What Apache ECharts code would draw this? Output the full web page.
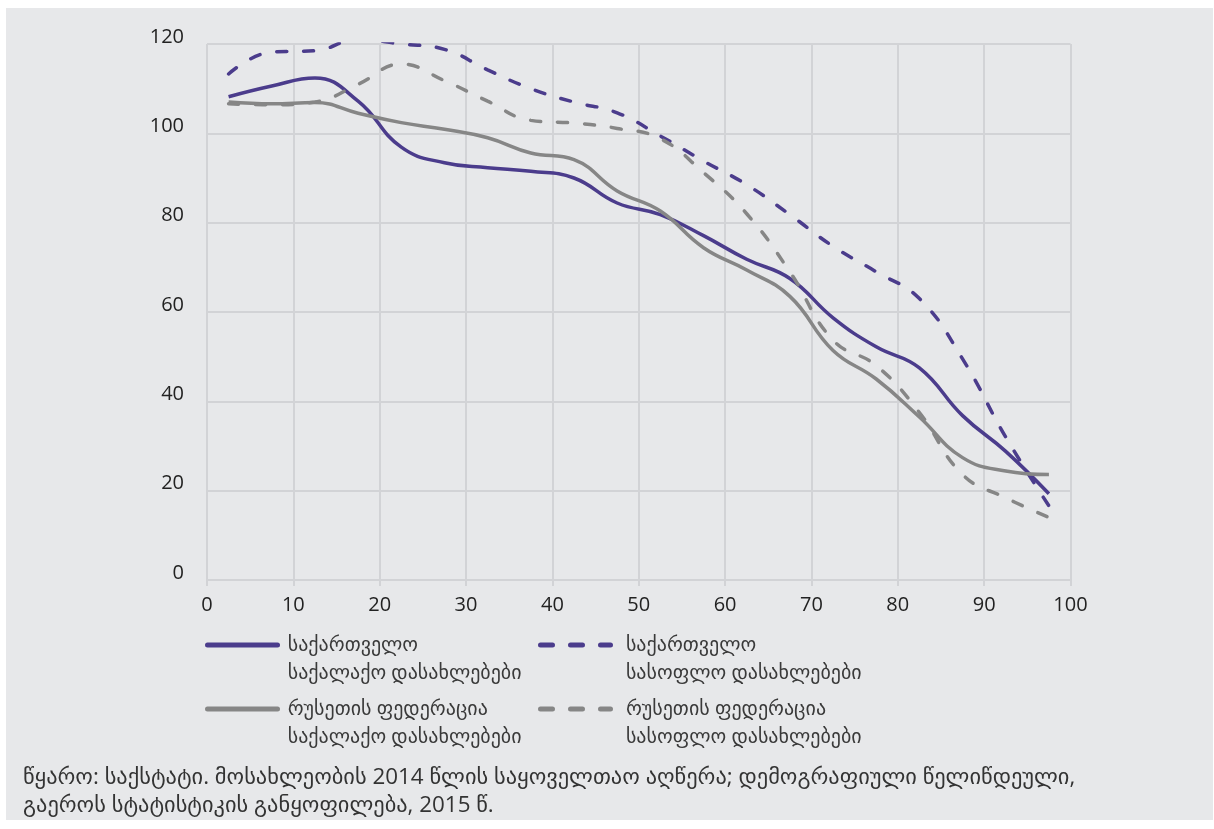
<!DOCTYPE html>
<html>
<head>
<meta charset="utf-8">
<script src="https://cdn.jsdelivr.net/npm/echarts@6/dist/echarts.min.js"></script>
<style>
  html, body { margin: 0; padding: 0; background: #ffffff; }
  #panel { position: absolute; left: 6px; top: 8px; width: 1207px; height: 812px; background: #e7e8ea; }
  #chart { position: absolute; left: 0; top: 0; width: 1214px; height: 829px; }
</style>
</head>
<body>
<div id="panel"></div>
<div id="chart"></div>
<script>
// Age group midpoints (x values)
const ages = [2.5, 7.5, 12.5, 17.5, 22.5, 27.5, 32.5, 37.5, 42.5, 47.5,
              52.5, 57.5, 62.5, 67.5, 72.5, 77.5, 82.5, 87.5, 92.5, 97.5];

// Series names
const nameGeoUrban = 'საქართველო\nსაქალაქო დასახლებები';
const nameGeoRural = 'საქართველო\nსასოფლო დასახლებები';
const nameRusUrban = 'რუსეთის ფედერაცია\nსაქალაქო დასახლებები';
const nameRusRural = 'რუსეთის ფედერაცია\nსასოფლო დასახლებები';

// Values
const geoUrban = [108.2, 110.6, 112.4, 107.2, 96.9, 93.4, 92.3, 91.5, 90.0, 84.4,
                  81.8, 77.1, 71.8, 67.5, 58.7, 52.2, 47.5, 36.8, 28.8, 19.3];
const geoRural = [113.3, 118.2, 118.5, 121.0, 120.0, 118.8, 114.2, 110.0, 107.0, 104.6,
                  99.4, 93.8, 88.5, 81.8, 74.7, 69.0, 63.0, 49.5, 32.0, 16.6];
const rusUrban = [107.0, 106.6, 106.9, 104.5, 102.4, 100.9, 99.0, 95.6, 94.1, 87.1,
                  82.6, 74.4, 69.4, 63.5, 51.4, 45.0, 36.5, 27.4, 24.4, 23.6];
const rusRural = [106.6, 106.4, 107.0, 111.0, 115.5, 111.8, 107.2, 102.9, 102.3, 101.1,
                  98.8, 91.2, 82.0, 69.0, 53.7, 48.0, 37.5, 23.6, 18.4, 14.0];

// Axis ticks
const xTicks = [0, 10, 20, 30, 40, 50, 60, 70, 80, 90, 100];
const yTicks = [0, 20, 40, 60, 80, 100, 120];

const sourceText = 'წყარო: საქსტატი. მოსახლეობის 2014 წლის საყოველთაო აღწერა; დემოგრაფიული წელიწდეული,\nგაეროს სტატისტიკის განყოფილება, 2015 წ.';

const PURPLE = '#4b3c8c';
const GREY = '#868686';
const GRID = '#d2d3d6';
const FONT = "'Open Sans', 'DejaVu Sans', sans-serif";

function pairs(vals) { return ages.map((a, i) => [a, vals[i]]); }

function mkSeries(name, vals, color, dashed) {
  return {
    name: name,
    type: 'line',
    data: pairs(vals),
    smooth: 0.45,
    symbol: 'none',
    lineStyle: {
      color: color,
      width: 3.5,
      type: dashed ? [10, 17] : 'solid',
      cap: dashed ? 'round' : 'butt'
    },
    itemStyle: { color: color },
    z: 3
  };
}

function mkLegend(name, left, top, color, dashed, indent) {
  return {
    data: [name],
    left: left,
    top: top,
    padding: 0,
    orient: 'horizontal',
    itemWidth: 70,
    itemHeight: 14,
    selectedMode: false,
    itemStyle: { opacity: 0 },
    lineStyle: { width: 5, color: color, type: dashed ? [12, 18] : 'solid', cap: 'round' },
    // leading empty line so that the first text line sits level with the line sample
    formatter: function (n) {
      return '\n' + n.split('\n').map(function (l) { return indent + l; }).join('\n');
    },
    textStyle: {
      fontFamily: FONT,
      fontSize: 20,
      color: '#3a3a3a',
      lineHeight: 28
    }
  };
}

const chart = echarts.init(document.getElementById('chart'), null, { renderer: 'canvas' });

chart.setOption({
  backgroundColor: 'transparent',
  animation: false,
  textStyle: { fontFamily: FONT },
  title: {
    text: sourceText,
    left: 23,
    top: 764,
    padding: 0,
    textStyle: {
      fontFamily: FONT,
      fontSize: 22.4,
      fontWeight: 'normal',
      color: '#333333',
      lineHeight: 28
    }
  },
  legend: [
    mkLegend(nameGeoUrban, 205, 603, PURPLE, false, ' '),
    mkLegend(nameGeoRural, 538, 603, PURPLE, true, '  '),
    mkLegend(nameRusUrban, 205, 667, GREY, false, ' '),
    mkLegend(nameRusRural, 538, 667, GREY, true, '  ')
  ],
  grid: { left: 207, right: 143.5, top: 44, bottom: 249, containLabel: false },
  xAxis: {
    type: 'value',
    min: xTicks[0],
    max: xTicks[xTicks.length - 1],
    interval: 10,
    axisLine: { show: true, lineStyle: { color: GRID, width: 2 } },
    axisTick: { show: true, length: 6, lineStyle: { color: GRID, width: 2 } },
    splitLine: { show: true, lineStyle: { color: GRID, width: 2 } },
    axisLabel: { color: '#222222', fontSize: 20, margin: 15, fontFamily: FONT }
  },
  yAxis: {
    type: 'value',
    min: yTicks[0],
    max: yTicks[yTicks.length - 1],
    interval: 20,
    axisLine: { show: false },
    axisTick: { show: false },
    splitLine: { show: true, lineStyle: { color: GRID, width: 2 } },
    axisLabel: { color: '#222222', fontSize: 20, margin: 23, fontFamily: FONT,
                 verticalAlign: 'bottom', lineHeight: 14 }
  },
  series: [
    mkSeries(nameGeoUrban, geoUrban, PURPLE, false),
    mkSeries(nameGeoRural, geoRural, PURPLE, true),
    mkSeries(nameRusUrban, rusUrban, GREY, false),
    mkSeries(nameRusRural, rusRural, GREY, true)
  ]
});
</script>
</body>
</html>
